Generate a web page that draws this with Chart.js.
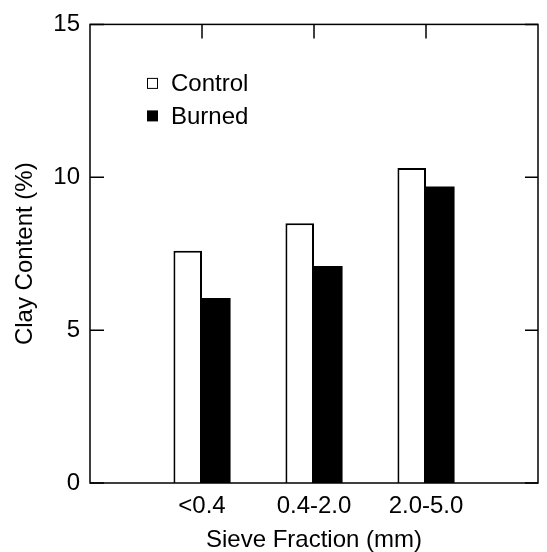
<!DOCTYPE html>
<html>
<head>
<meta charset="utf-8">
<script src="https://cdn.jsdelivr.net/npm/chart.js@4.4.1/dist/chart.umd.min.js"></script>
<style>
  html, body { margin: 0; padding: 0; background: #fff; }
  #wrap { width: 547px; height: 552px; }
</style>
</head>
<body>
<div id="wrap"><canvas id="c"></canvas></div>
<script>
const fractions = ['<0.4', '0.4-2.0', '2.0-5.0'];
const controlClay = [7.6, 8.5, 10.3];
const burnedClay = [6.05, 7.1, 9.7];
const yTicks = [0, 5, 10, 15];

const FONT = 'Liberation Sans, Arial, Helvetica, sans-serif';

// empty slot on each side so the groups sit at 1, 2, 3 of a 0..4 axis
const pad = (arr, fill) => [fill, ...arr, fill];

const frame = {
  id: 'frame',
  afterDatasetsDraw(chart) {
    const { ctx, chartArea: a, scales: { x, y } } = chart;
    ctx.save();
    ctx.strokeStyle = '#000';
    ctx.lineWidth = 1.5;
    ctx.strokeRect(a.left, a.top, a.right - a.left, a.bottom - a.top);
    ctx.beginPath();
    yTicks.forEach((v) => {
      const py = y.getPixelForValue(v);
      ctx.moveTo(a.left, py);
      ctx.lineTo(a.left + 14, py);
      ctx.moveTo(a.right, py);
      ctx.lineTo(a.right - 13, py);
    });
    fractions.forEach((f, i) => {
      const px = x.getPixelForValue(i + 1);
      ctx.moveTo(px, a.top);
      ctx.lineTo(px, a.top + 14);
    });
    ctx.stroke();

    // legend inside the plot
    ctx.font = '24px ' + FONT;
    ctx.textBaseline = 'middle';
    ctx.fillStyle = '#000';
    chart.data.datasets.forEach((ds, i) => {
      const ly = a.top + 59 + i * 32.5;
      const lx = a.left + 57;
      ctx.lineWidth = 1;
      if (ds.backgroundColor === '#000') {
        ctx.fillRect(lx, ly - 5.5, 11, 11);
      } else {
        ctx.strokeRect(lx + 0.5, ly - 5, 10, 10);
      }
      ctx.fillText(ds.label, lx + 24, ly + 1);
    });
    ctx.restore();
  },
};

new Chart(document.getElementById('c'), {
  type: 'bar',
  data: {
    labels: pad(fractions, ''),
    datasets: [
      {
        label: 'Control',
        data: pad(controlClay, null),
        backgroundColor: '#fff',
        borderColor: '#000',
        borderWidth: 2,
        borderSkipped: 'bottom',
      },
      {
        label: 'Burned',
        data: pad(burnedClay, null),
        backgroundColor: '#000',
        borderWidth: 0,
      },
    ],
  },
  options: {
    responsive: true,
    maintainAspectRatio: false,
    animation: false,
    categoryPercentage: 0.51,
    barPercentage: 1.0,
    layout: { padding: { top: 23, right: 1, left: 0, bottom: 0 } },
    plugins: { legend: { display: false }, tooltip: { enabled: false } },
    scales: {
      x: {
        offset: false,
        grid: { display: false, drawTicks: false },
        border: { display: false },
        ticks: {
          color: '#000',
          font: { family: FONT, size: 24 },
          padding: 9,
          maxRotation: 0,
          autoSkip: false,
        },
        title: {
          display: true,
          text: 'Sieve Fraction (mm)',
          color: '#000',
          font: { family: FONT, size: 24 },
          padding: { top: 0, bottom: -3 },
        },
        afterFit: (s) => { s.height = 69; },
      },
      y: {
        min: 0,
        max: 15,
        grid: { display: false, drawTicks: false },
        border: { display: false },
        ticks: {
          stepSize: 5,
          color: '#000',
          font: { family: FONT, size: 24 },
          padding: 10,
        },
        title: {
          display: true,
          text: 'Clay Content (%)',
          color: '#000',
          font: { family: FONT, size: 24 },
          padding: { top: 11, bottom: 0 },
        },
        afterFit: (s) => { s.width = 90; },
      },
    },
  },
  plugins: [frame],
});
</script>
</body>
</html>
